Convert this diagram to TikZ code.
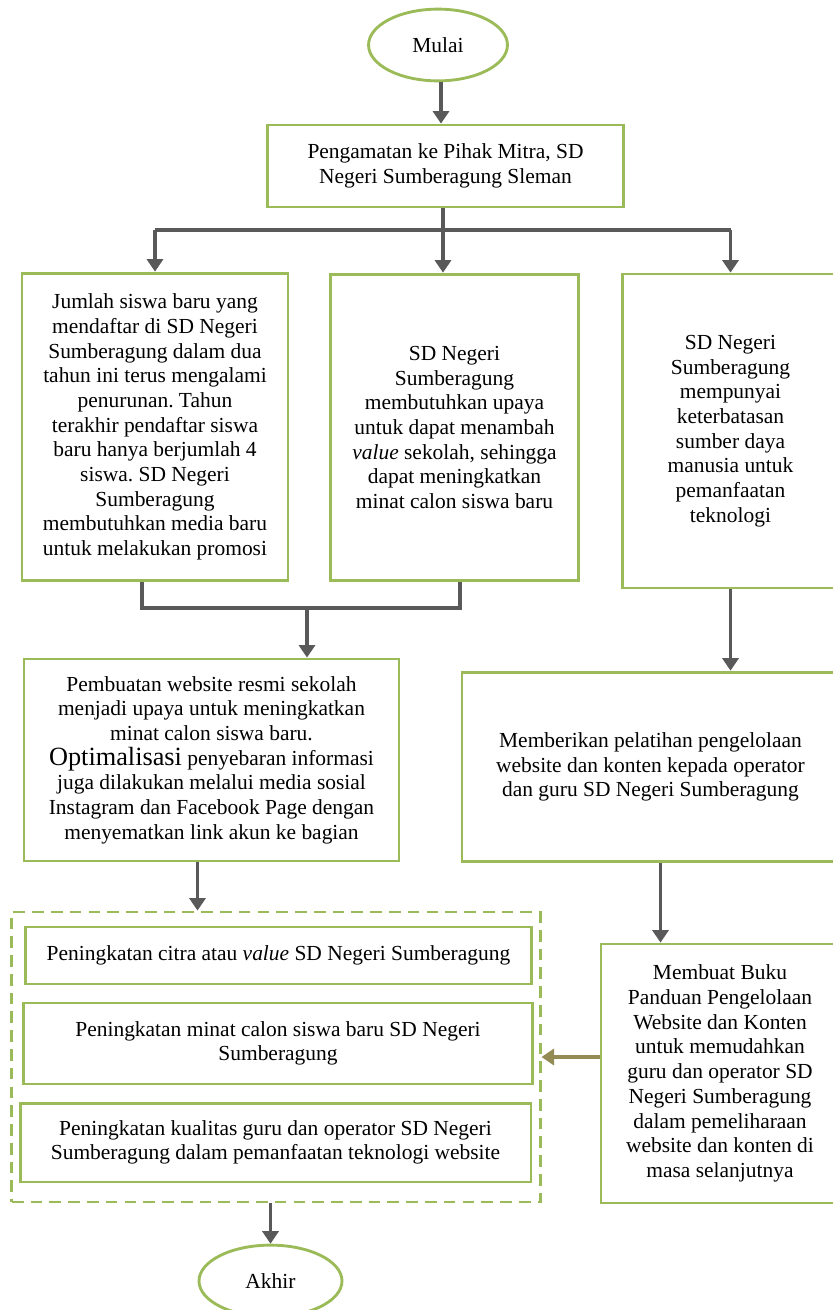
\documentclass[tikz,border=0pt]{standalone}
\usepackage{fontspec}
\setmainfont{Liberation Serif}
\usepackage{xcolor}
\usetikzlibrary{arrows.meta,positioning,shapes.geometric,calc}
\definecolor{hijau}{RGB}{155,187,89}
\definecolor{abu}{RGB}{89,89,89}
\definecolor{zaitun}{RGB}{148,138,84}
\frenchspacing

\begin{document}
\begin{tikzpicture}[
    x=0.01965cm, y=-0.01965cm,
    box/.style={rectangle, draw=hijau, line width=1.6pt, align=center, inner sep=2pt, font=\fontsize{12}{13.8}\selectfont},
    terminal/.style={ellipse, draw=hijau, line width=1.6pt, inner sep=0pt, font=\fontsize{12}{13.8}\selectfont},
    garis/.style={draw=abu, line width=1.7pt},
    arrow/.style={garis, -{Triangle[length=7pt,width=9pt]}},
    hasilbox/.style={rectangle, draw=hijau, line width=1.6pt, dash pattern=on 6.5pt off 4pt}
]
    \useasboundingbox (0,0) rectangle (832,1310);

    \node [terminal, minimum width=2.73cm, minimum height=1.41cm] (mulai) at (438,45) {Mulai};
    \node [box, minimum width=6.98cm, minimum height=1.61cm] (amati) at (445.5,166) {Pengamatan ke Pihak Mitra, SD\\Negeri Sumberagung Sleman};

    \node [box, minimum width=5.23cm, minimum height=6.05cm] (jumlah) at (155,427) {Jumlah siswa baru yang\\mendaftar di SD Negeri\\Sumberagung dalam dua\\tahun ini terus mengalami\\penurunan. Tahun\\terakhir pendaftar siswa\\baru hanya berjumlah 4\\siswa. SD Negeri\\Sumberagung\\membutuhkan media baru\\untuk melakukan promosi};
    \node [box, minimum width=4.89cm, minimum height=6.03cm] (butuh) at (454.5,427.5) {SD Negeri\\Sumberagung\\membutuhkan upaya\\untuk dapat menambah\\\textit{value} sekolah, sehingga\\dapat meningkatkan\\minat calon siswa baru};
    \node [box, minimum width=4.26cm, minimum height=6.17cm] (sdm) at (730.5,431) {SD Negeri\\Sumberagung\\mempunyai\\keterbatasan\\sumber daya\\manusia untuk\\pemanfaatan\\teknologi};

    \node [box, minimum width=7.37cm, minimum height=3.97cm] (buat) at (211.5,760) {Pembuatan website resmi sekolah\\menjadi upaya untuk meningkatkan\\minat calon siswa baru.\\{\fontsize{14.7}{16}\selectfont Optimalisasi} penyebaran informasi\\juga dilakukan melalui media sosial\\Instagram dan Facebook Page dengan\\menyematkan link akun ke bagian};
    \node [box, minimum width=7.41cm, minimum height=3.73cm] (latih) at (650.5,767) {Memberikan pelatihan pengelolaan\\website dan konten kepada operator\\dan guru SD Negeri Sumberagung};
    \node [box, minimum width=4.68cm, minimum height=5.09cm] (panduan) at (720,1073.5) {Membuat Buku\\Panduan Pengelolaan\\Website dan Konten\\untuk memudahkan\\guru dan operator SD\\Negeri Sumberagung\\dalam pemeliharaan\\website dan konten di\\masa selanjutnya};

    % kotak hasil
    \node [hasilbox, minimum width=10.38cm, minimum height=5.70cm] (hasil) at (276,1057) {};
    \node [box, minimum width=9.96cm, minimum height=1.12cm] (citra) at (278.5,955.5) {Peningkatan citra atau \textit{value} SD Negeri Sumberagung};
    \node [box, minimum width=10.02cm, minimum height=1.59cm] (minat) at (278,1043.5) {Peningkatan minat calon siswa baru SD Negeri\\Sumberagung};
    \node [box, minimum width=10.04cm, minimum height=1.55cm] (kualitas) at (275.5,1142.5) {Peningkatan kualitas guru dan operator SD Negeri\\Sumberagung dalam pemanfaatan teknologi website};

    \node [terminal, minimum width=2.81cm, minimum height=1.41cm] (akhir) at (270.5,1281) {Akhir};

    % titik bantu
    \coordinate (cabang) at (443,230);
    \coordinate (kiri) at (142,608);
    \coordinate (kanan) at (460,608);
    \coordinate (gabung) at (307,608);
    \coordinate (masuk) at ($(buat.south)+(-14,0)$);
    \coordinate (turun) at ($(panduan.north west)+(61,0)$);

    \draw [arrow] (mulai.south -| 441,0) -- (amati.north -| 441,0);
    \draw [garis] (amati.south -| cabang) -- (cabang);
    \draw [garis] (jumlah.north |- cabang) -- (sdm.north |- cabang);
    \draw [arrow] (jumlah.north |- cabang) -- (jumlah.north);
    \draw [arrow] (cabang) -- (cabang |- butuh.north);
    \draw [arrow] (sdm.north |- cabang) -- (sdm.north);

    \draw [garis] (jumlah.south -| kiri) -- (kiri) -- (kanan) -- (butuh.south -| kanan);
    \draw [arrow] (gabung) -- (gabung |- buat.north);
    \draw [arrow] (sdm.south) -- (sdm.south |- latih.north);
    \draw [arrow] (latih.south -| turun) -- (turun);

    \draw [arrow] (masuk) -- (masuk |- hasil.north);
    \draw [arrow, draw=zaitun] (panduan.west |- hasil.east) -- (hasil.east);
    \draw [arrow] (hasil.south -| akhir.north) -- (akhir.north);
\end{tikzpicture}
\end{document}
